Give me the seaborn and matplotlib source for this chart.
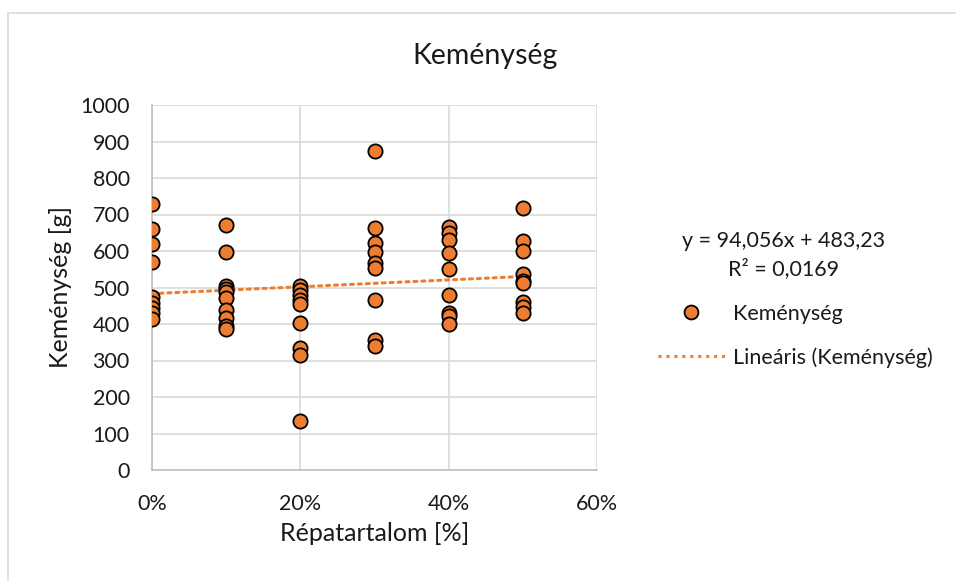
import numpy as np
import pandas as pd
import matplotlib
matplotlib.use("Agg")
import matplotlib.pyplot as plt
from matplotlib.lines import Line2D
from matplotlib.patches import Rectangle
from matplotlib.ticker import PercentFormatter
import seaborn as sns

# ---- data ----
x_levels = [0.0, 0.1, 0.2, 0.3, 0.4, 0.5]
vals_0 = [730, 661, 619, 569, 475, 458, 443, 429, 413]
vals_10 = [671, 597, 505, 496, 487, 470, 437, 416, 395, 387]
vals_20 = [505, 493, 479, 466, 455, 402, 333, 315, 135]
vals_30 = [874, 662, 621, 597, 566, 553, 466, 356, 341]
vals_40 = [667, 648, 630, 594, 551, 479, 429, 422, 400]
vals_50 = [717, 628, 600, 536, 518, 511, 459, 447, 429]
slope = 94.056
intercept = 483.23
r2_text = "R² = 0,0169"
eq_text = "y = 94,056x + 483,23"
title = "Keménység"
series_name = "Keménység"
trend_name = "Lineáris (Keménység)"
xlabel = "Répatartalom [%]"
ylabel = "Keménység [g]"

groups = [vals_0, vals_10, vals_20, vals_30, vals_40, vals_50]
df = pd.DataFrame({
    "x": np.concatenate([[xv] * len(g) for xv, g in zip(x_levels, groups)]),
    "y": np.concatenate(groups),
})
trend = pd.DataFrame({"x": [x_levels[0], x_levels[-1]]})
trend["y"] = intercept + slope * trend["x"]

sns.set_theme(style="white")
plt.rcParams["font.family"] = ["Lato", "DejaVu Sans"]

W, H = 956, 581
fig = plt.figure(figsize=(W / 100, H / 100), dpi=100)
ax = fig.add_axes([152 / W, (H - 470) / H, (597 - 152) / W, (470 - 105) / H])

orange = "#ED7D31"
grid_c = "#D9D9D9"
txt_c = "#1a1a1a"
dots = (0, (1, 1.6))

sns.lineplot(data=trend, x="x", y="y", ax=ax, color=orange, lw=2.2,
             linestyle=dots, zorder=3, dash_capstyle="round")
sns.scatterplot(data=df, x="x", y="y", ax=ax, color=orange, s=105,
                edgecolor="black", linewidth=1.3, zorder=4)

ax.set_xlim(0, 0.6)
ax.set_ylim(0, 1000)
ax.set_xticks([0, 0.2, 0.4, 0.6])
ax.set_yticks(range(0, 1001, 100))
ax.xaxis.set_major_formatter(PercentFormatter(1.0, decimals=0))
ax.grid(True, color=grid_c, lw=1.2)
ax.set_axisbelow(True)
for s in ["top", "right"]:
    ax.spines[s].set_visible(False)
for s in ["left", "bottom"]:
    ax.spines[s].set_color("#BFBFBF")
    ax.spines[s].set_linewidth(1.2)
ax.tick_params(axis="both", length=0, labelsize=15.5, colors=txt_c)
ax.tick_params(axis="y", pad=16)
ax.tick_params(axis="x", pad=17)
ax.set_xlabel(xlabel, fontsize=18, color=txt_c)
ax.set_ylabel(ylabel, fontsize=18, color=txt_c)
ax.xaxis.set_label_coords(0.5, (470 - 522) / 365)
ax.yaxis.set_label_coords((72 - 152) / 445, 0.5)

fig.text(485 / W, 1 - 56 / H, title, ha="center", va="center", fontsize=20.5, color=txt_c)
fig.text(784 / W, 1 - 241 / H, eq_text, ha="center", va="center", fontsize=15.5, color=txt_c)
fig.text(784 / W, 1 - 269 / H, r2_text, ha="center", va="center", fontsize=15.5, color=txt_c)

handles = [
    Line2D([], [], marker="o", linestyle="none", markerfacecolor=orange,
           markeredgecolor="black", markeredgewidth=1.3, markersize=10),
    Line2D([], [], color=orange, lw=2.2, linestyle=dots),
]
fig.legend(handles, [series_name, trend_name], loc="upper left",
           bbox_to_anchor=(658 / W, 1 - 304 / H), frameon=False, fontsize=15.5,
           handlelength=3.1, handletextpad=0.4, labelspacing=1.08, borderpad=0,
           borderaxespad=0, labelcolor=txt_c)

fig.patches.append(Rectangle((8 / W, -0.1), 1.2, 1 - 13 / H + 0.1, transform=fig.transFigure,
                             fill=False, edgecolor="#D9D9D9", lw=1.2))

fig.savefig("out.png", dpi=100, facecolor="white")
